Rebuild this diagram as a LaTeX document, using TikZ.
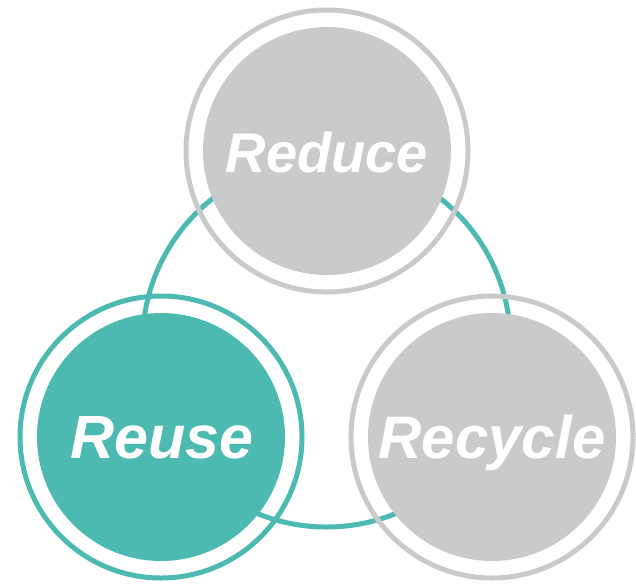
\documentclass[tikz,border=0pt]{standalone}
\usepackage{fontspec}
\setmainfont{Liberation Sans}
\definecolor{teal3r}{HTML}{4DBAB2}
\definecolor{gray3r}{HTML}{C9CACA}
\begin{document}
\begin{tikzpicture}[x=1pt,y=-1pt,
  ring/.style={circle,draw=#1,line width=5pt,inner sep=0pt,minimum size=282pt},
  disc/.style={circle,fill=#1,inner sep=0pt,minimum size=248pt},
  lbl/.style={anchor=base,text=white,font=\bfseries\itshape\fontsize{#1}{#1}\selectfont,inner sep=0pt}]
\useasboundingbox (0,0) rectangle (636,587);
\coordinate (cen) at (326.5,343);
\draw[teal3r,line width=5pt] (cen) circle[radius=184pt];
\node[ring=gray3r] (reduceRing) at (327,151) {};
\node[ring=teal3r] (reuseRing) at (161,437) {};
\node[ring=gray3r] (recycleRing) at (492,437) {};
\node[disc=gray3r] (reduce) at (reduceRing.center) {};
\node[disc=teal3r] (reuse) at (reuseRing.center) {};
\node[disc=gray3r] (recycle) at (recycleRing.center) {};
\node[lbl=56] (reduceT) at (327,172) {Reduce};
\node[lbl=61] (reuseT) at (162,458) {Reuse};
\node[lbl=60] (recycleT) at (492,458) {Recycle};
\end{tikzpicture}
\end{document}
